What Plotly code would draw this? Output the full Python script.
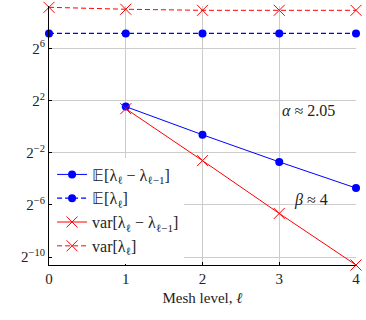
import plotly.graph_objects as go

levels = [0, 1, 2, 3, 4]
levels_diff = [1, 2, 3, 4]
# log2 of values
e_diff_log2 = [1.54, -0.62, -2.7, -4.7]
e_level_log2 = [7.15, 7.15, 7.15, 7.15, 7.15]
var_diff_log2 = [1.38, -2.6, -6.65, -10.6]
var_level_log2 = [9.15, 9.0, 8.92, 8.92, 8.92]
ytick_pows = [6, 2, -2, -6, -10]

e_diff = [2 ** v for v in e_diff_log2]
e_level = [2 ** v for v in e_level_log2]
var_diff = [2 ** v for v in var_diff_log2]
var_level = [2 ** v for v in var_level_log2]

FONT = "Liberation Serif"
BLUE = "#0000ff"
RED = "#ff0000"

fig = go.Figure()
fig.add_trace(go.Scatter(x=levels_diff, y=e_diff, mode="lines+markers",
                         name="\U0001D53C[λ<sub>ℓ</sub> − λ<sub>ℓ−1</sub>]",
                         line=dict(color=BLUE, width=1),
                         marker=dict(color=BLUE, size=8, symbol="circle"),
                         cliponaxis=False))
fig.add_trace(go.Scatter(x=levels, y=e_level, mode="lines+markers",
                         name="\U0001D53C[λ<sub>ℓ</sub>]",
                         line=dict(color=BLUE, width=1.3, dash="5px,3px"),
                         marker=dict(color=BLUE, size=8, symbol="circle"),
                         cliponaxis=False))
fig.add_trace(go.Scatter(x=levels_diff, y=var_diff, mode="lines+markers",
                         name="var[λ<sub>ℓ</sub> − λ<sub>ℓ−1</sub>]",
                         line=dict(color=RED, width=1),
                         marker=dict(color=RED, size=11, symbol="x-thin",
                                     line=dict(color=RED, width=1)),
                         cliponaxis=False))
fig.add_trace(go.Scatter(x=levels, y=var_level, mode="lines+markers",
                         name="var[λ<sub>ℓ</sub>]",
                         line=dict(color=RED, width=1, dash="5px,3px"),
                         marker=dict(color=RED, size=11, symbol="x-thin",
                                     line=dict(color=RED, width=1)),
                         cliponaxis=False))

fig.add_annotation(x=3.38, y=1.23 * 0.30103, text="<i>α</i> ≈ 2.05", showarrow=False,
                   font=dict(family=FONT, size=16, color="#222"))
fig.add_annotation(x=3.42, y=-5.6 * 0.30103, text="<i>β</i> ≈ 4", showarrow=False,
                   font=dict(family=FONT, size=16, color="#222"))

fig.update_layout(
    width=366, height=320,
    margin=dict(l=49, r=6, t=6, b=55),
    paper_bgcolor="white", plot_bgcolor="white",
    font=dict(family=FONT, size=14, color="#222"),
    showlegend=True,
    legend=dict(x=0.01, y=0.415, xanchor="left", yanchor="top",
                bgcolor="white", borderwidth=0,
                font=dict(family=FONT, size=16),
                tracegroupgap=0, itemwidth=30),
    xaxis=dict(range=[0, 4], tickvals=levels, ticktext=[str(v) for v in levels],
               showgrid=True, gridcolor="#cccccc", gridwidth=1,
               showline=True, linecolor="black", linewidth=1.2,
               ticks="inside", ticklen=3, tickcolor="black", zeroline=False,
               title=dict(text="Mesh level, <i>ℓ</i>", font=dict(family=FONT, size=15), standoff=6),
               tickfont=dict(family=FONT, size=15)),
    yaxis=dict(type="log", range=[-10.6 * 0.30103, 9.25 * 0.30103],
               tickvals=[2 ** p for p in ytick_pows],
               ticktext=[f"2<sup>{p}</sup>".replace("-", "−") for p in ytick_pows],
               showgrid=True, gridcolor="#cccccc", gridwidth=1,
               showline=True, linecolor="black", linewidth=1.2,
               ticks="inside", ticklen=3, tickcolor="black", zeroline=False,
               tickfont=dict(family=FONT, size=15)),
)

fig.write_html("out.html", config={"displayModeBar": False},
               post_script="document.body.style.margin='0';")
